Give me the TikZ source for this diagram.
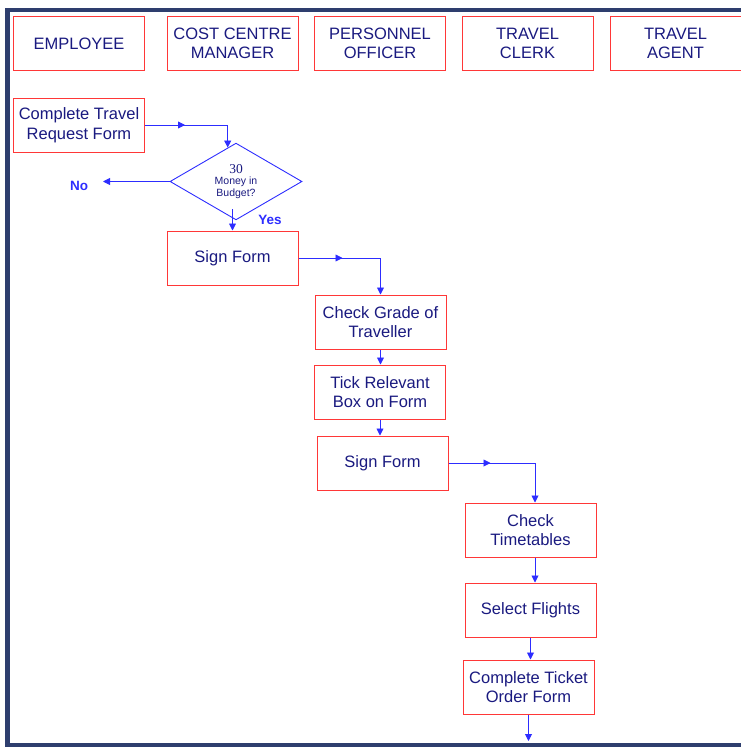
\documentclass[tikz,border=0pt]{standalone}
\usepackage{fontspec}
\setmainfont{Liberation Sans}
\newfontfamily\serifnum{Liberation Serif}
\usetikzlibrary{shapes.geometric}
\usetikzlibrary{arrows.meta}
\usetikzlibrary{decorations.markings}
\usetikzlibrary{calc}

\definecolor{inkblue}{RGB}{26,26,128}
\definecolor{boxred}{RGB}{255,55,55}
\definecolor{flowblue}{RGB}{45,45,255}
\definecolor{framenavy}{RGB}{46,62,110}

\tikzset{
  procbox/.style={draw=boxred, line width=1pt, fill=white, minimum width=131pt, minimum height=54pt, inner sep=0pt, align=center, text=inkblue, font=\fontsize{16.5}{19.5}\selectfont},
  decbox/.style={diamond, draw=flowblue, line width=0.9pt, minimum width=132pt, minimum height=73pt, inner sep=0pt, align=center, text=inkblue},
  flow/.style={draw=flowblue, line width=0.9pt, -{Triangle[length=7pt,width=7pt]}},
  midtip/.style={postaction={decorate}, decoration={markings, mark=at position #1 with {\arrow{Triangle[length=7pt,width=7pt]}}}},
  lbl/.style={text=flowblue, font=\bfseries\fontsize{13.5}{15}\selectfont}
}

\begin{document}
\begin{tikzpicture}[x=1pt, y=-1pt]

 \useasboundingbox (0,0) rectangle (741,747);

 %frame
 \fill[framenavy] (5,8) rectangle (741,12);
 \fill[framenavy] (5,8) rectangle (10,747);
 \fill[framenavy] (5,743) rectangle (741,747);

 %lanes
 \foreach \x/\name/\txt in {79/h1/{EMPLOYEE}, 232.5/h2/{COST CENTRE\\MANAGER}, 380/h3/{PERSONNEL\\OFFICER}, 527.5/h4/{TRAVEL\\CLERK}, 675.5/h5/{TRAVEL\\AGENT}} {
         \node[procbox] (\name) at (\x, 43.5) {\txt};
 }

 %employee
 \node[procbox] (req) at (79, 125) {Complete Travel\\Request Form};

 %cost centre manager
 \node[decbox] (dec) at (236, 181.5) {\serifnum\fontsize{13.5}{11}\selectfont 30\\[-1pt]\fontsize{10.5}{10}\selectfont Money in\\\fontsize{10.5}{10}\selectfont Budget?};
 \node[procbox] (sign1) at (232.5, 258) {Sign Form};
 \node[lbl] (no) at (79, 186) {No};
 \node[lbl] (yes) at (270, 220) {Yes};
 \coordinate (noend) at (103, 181.5);

 %personnel officer
 \node[procbox] (grade) at (380.5, 322) {Check Grade of\\Traveller};
 \node[procbox] (tick) at (380, 392) {Tick Relevant\\Box on Form};
 \node[procbox] (sign2) at (382.5, 463) {Sign Form};

 %travel clerk
 \node[procbox] (time) at (530.5, 530) {Check\\Timetables};
 \node[procbox] (sel) at (530.5, 610) {Select Flights};
 \node[procbox] (tick2) at (528.5, 687) {Complete Ticket\\Order Form};
 \coordinate (out) at (527, 741);

 %arrows
 \draw[flow, midtip=40pt] (req.east) -| ($(dec.north west)!0.75!(dec.north)$);
 \draw[flow] (dec.west) -- (noend);
 \draw[flow] ([yshift=11pt]dec.south -| sign1.north) -- (sign1.north);
 \draw[flow, midtip=44pt] (sign1.east) -| (grade.north);
 \draw[flow] (grade.south) -- (grade.south |- tick.north);
 \draw[flow] (tick.south) -- (tick.south |- sign2.north);
 \draw[flow, midtip=42pt] (sign2.east) -| ([xshift=4.5pt]time.north);
 \draw[flow] ([xshift=4.5pt]time.south) -- ([xshift=4.5pt]time.south |- sel.north);
 \draw[flow] (sel.south) -- (sel.south |- tick2.north);
 \draw[flow] (tick2.south) -- (tick2.south |- out);

\end{tikzpicture}
\end{document}
